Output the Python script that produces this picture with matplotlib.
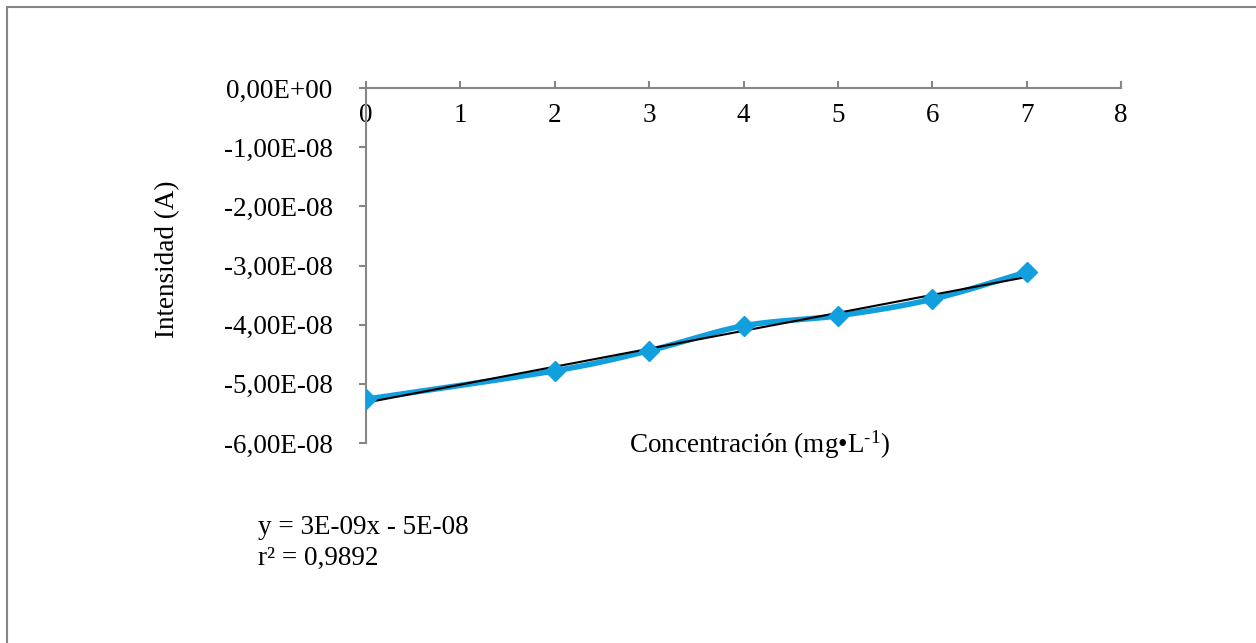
import numpy as np
import matplotlib
matplotlib.use("Agg")
import matplotlib.pyplot as plt
from matplotlib.ticker import FuncFormatter
from matplotlib.patches import Rectangle

# data
conc = [0, 2, 3, 4, 5, 6, 7]
intens = [-5.26e-08, -4.78e-08, -4.44e-08, -4.02e-08, -3.85e-08, -3.57e-08, -3.11e-08]
eq_text = "y = 3E-09x - 5E-08"
r2_text = "r² = 0,9892"

plt.rcParams['font.family'] = ['Liberation Serif', 'DejaVu Serif']
plt.rcParams['mathtext.fontset'] = 'custom'
plt.rcParams['mathtext.rm'] = 'Liberation Serif'
plt.rcParams['mathtext.default'] = 'regular'

blue = '#119FDD'
gray = '#868686'
fs = 19.5


def catmull(xs, ys, n=30):
    # smooth line through the points, like the excel smoothed line
    xs = np.asarray(xs, float)
    ys = np.asarray(ys, float)
    px = np.concatenate([[xs[0]], xs, [xs[-1]]])
    py = np.concatenate([[ys[0]], ys, [ys[-1]]])
    ox, oy = [], []
    for i in range(1, len(px) - 2):
        t = np.linspace(0, 1, n)
        for arr, out in ((px, ox), (py, oy)):
            p0, p1, p2, p3 = arr[i - 1], arr[i], arr[i + 1], arr[i + 2]
            m1 = (p2 - p0) / 2
            m2 = (p3 - p1) / 2
            h00 = 2 * t**3 - 3 * t**2 + 1
            h10 = t**3 - 2 * t**2 + t
            h01 = -2 * t**3 + 3 * t**2
            h11 = t**3 - t**2
            out.extend(h00 * p1 + h10 * m1 + h01 * p2 + h11 * m2)
    return np.array(ox), np.array(oy)


fig = plt.figure(figsize=(12.56, 6.43), dpi=100)
ax = fig.add_axes([366 / 1256, 1 - 443 / 643, (1121 - 366) / 1256, (443 - 88) / 643])

sx, sy = catmull(conc, intens)
ax.plot(sx, sy, color=blue, lw=4, solid_capstyle='round', zorder=3)
ax.plot(conc, intens, ls='none', marker='D', ms=10, color=blue, mec=blue, zorder=5)

k, b = np.polyfit(conc, intens, 1)
tx = np.array([conc[0], conc[-1]])
ax.plot(tx, k * tx + b, color='black', lw=1.5, zorder=4)

ax.set_xlim(0, 8)
ax.set_ylim(-6e-08, 0)
ax.set_xticks(range(0, 9))
ax.set_yticks(np.arange(-6, 1) * 1e-08)
ax.yaxis.set_major_formatter(FuncFormatter(lambda v, p: f"{v:.2E}".replace('.', ',')))

for s in ['top', 'right']:
    ax.spines[s].set_visible(False)
ax.spines['bottom'].set_position(('data', 0))
for s in ['bottom', 'left']:
    ax.spines[s].set_color(gray)
    ax.spines[s].set_linewidth(1.5)
ax.tick_params(axis='x', direction='in', length=5, width=1.5, color=gray, pad=11, labelsize=fs)
ax.tick_params(axis='y', direction='out', length=5, width=1.5, color=gray, pad=19, labelsize=fs)
for lab in ax.get_xticklabels() + ax.get_yticklabels():
    lab.set_clip_on(False)

fig.text(168 / 1256, 1 - 259 / 643, 'Intensidad (A)', rotation=90, ha='center', va='center', fontsize=fs)
fig.text(760 / 1256, 1 - 445 / 643, r'Concentración (mg•L$^{\text{-1}}$)', ha='center', va='center', fontsize=fs)
fig.text(258 / 1256, 1 - 527 / 643, eq_text, ha='left', va='center', fontsize=fs)
fig.text(258 / 1256, 1 - 558 / 643, r2_text, ha='left', va='center', fontsize=fs)

# outer chart border
fig.patches.append(Rectangle((6.5 / 1256, -0.1), 1.2, 1 - 7.5 / 643 + 0.1, transform=fig.transFigure,
                             fill=False, edgecolor=gray, lw=1.5))

fig.savefig('out.png', dpi=100)
